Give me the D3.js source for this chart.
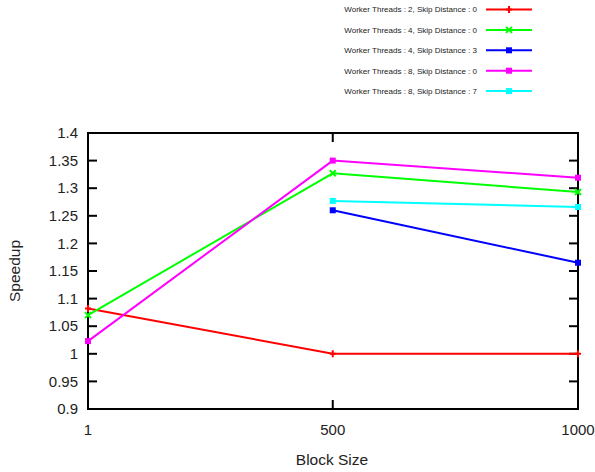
<!DOCTYPE html>
<html><head><meta charset="utf-8">
<script src="https://cdn.jsdelivr.net/npm/d3@7"></script>
<style>body{margin:0;background:#fff}svg{display:block}text{font-family:"Liberation Sans",Arial,sans-serif;fill:#222}</style>
</head><body><svg id="c" width="595" height="472"></svg>
<script>
const blockSizes = [1, 500, 1000];
const seriesNames = [
  "Worker Threads : 2, Skip Distance : 0",
  "Worker Threads : 4, Skip Distance : 0",
  "Worker Threads : 4, Skip Distance : 3",
  "Worker Threads : 8, Skip Distance : 0",
  "Worker Threads : 8, Skip Distance : 7"
];
const wt2sd0 = [1.082, 1.0, 1.0];
const wt4sd0 = [1.07, 1.327, 1.293];
const wt4sd3 = [null, 1.26, 1.165];
const wt8sd0 = [1.023, 1.35, 1.319];
const wt8sd7 = [null, 1.277, 1.266];
const seriesColors = ["#ff0000", "#00ff00", "#0000ff", "#ff00ff", "#00ffff"];
const seriesMarkers = ["plus", "cross", "square", "square", "square"];
const yTicks = [0.9, 0.95, 1, 1.05, 1.1, 1.15, 1.2, 1.25, 1.3, 1.35, 1.4];
const xTicks = [1, 500, 1000];

const allSeries = [wt2sd0, wt4sd0, wt4sd3, wt8sd0, wt8sd7];
const svg = d3.select("#c");
const L = 88, R = 578, T = 133, B = 409;
const x = d3.scaleLinear().domain([1, 1000]).range([L, R]);
const y = d3.scaleLinear().domain([0.9, 1.4]).range([B, T]);

const fs = 15;
const tl = 9;
const g = svg.append("g");
yTicks.forEach(v => {
  g.append("line").attr("x1", L).attr("x2", L + tl).attr("y1", y(v)).attr("y2", y(v)).attr("stroke", "#000").attr("stroke-width", 2);
  g.append("line").attr("x1", R).attr("x2", R - tl).attr("y1", y(v)).attr("y2", y(v)).attr("stroke", "#000").attr("stroke-width", 2);
  g.append("text").attr("x", L - 10).attr("y", y(v)).attr("dy", "0.35em").attr("text-anchor", "end").attr("font-size", fs).text(v);
});
xTicks.forEach(v => {
  g.append("line").attr("x1", x(v)).attr("x2", x(v)).attr("y1", B).attr("y2", B - tl).attr("stroke", "#000").attr("stroke-width", 2);
  g.append("line").attr("x1", x(v)).attr("x2", x(v)).attr("y1", T).attr("y2", T + tl).attr("stroke", "#000").attr("stroke-width", 2);
  g.append("text").attr("x", x(v)).attr("y", 430).attr("dy", "0.35em").attr("text-anchor", "middle").attr("font-size", fs).text(v);
});
g.append("rect").attr("x", L).attr("y", T).attr("width", R - L).attr("height", B - T).attr("fill", "none").attr("stroke", "#000").attr("stroke-width", 2);

svg.append("text").attr("x", 332).attr("y", 460).attr("dy", "0.35em").attr("text-anchor", "middle").attr("font-size", 15.5).text("Block Size");
svg.append("text").attr("transform", "translate(15,271) rotate(-90)").attr("dy", "0.35em").attr("text-anchor", "middle").attr("font-size", 15.5).text("Speedup");

function marker(sel, type, cx, cy, color) {
  if (type === "square") {
    sel.append("rect").attr("x", cx - 3).attr("y", cy - 3).attr("width", 6).attr("height", 6).attr("fill", color);
  } else if (type === "plus") {
    sel.append("path").attr("d", `M${cx-3},${cy}H${cx+3}M${cx},${cy-3.5}V${cy+3.5}`).attr("stroke", color).attr("stroke-width", 2);
  } else {
    sel.append("path").attr("d", `M${cx-3},${cy-3}L${cx+3},${cy+3}M${cx-3},${cy+3}L${cx+3},${cy-3}`).attr("stroke", color).attr("stroke-width", 2);
  }
}

const line = d3.line().defined(d => d.v != null).x(d => x(d.x)).y(d => y(d.v));
allSeries.forEach((s, i) => {
  const pts = s.map((v, j) => ({x: blockSizes[j], v}));
  svg.append("path").datum(pts).attr("d", line).attr("fill", "none").attr("stroke", seriesColors[i]).attr("stroke-width", 2);
  const mg = svg.append("g");
  pts.filter(p => p.v != null).forEach(p => marker(mg, seriesMarkers[i], x(p.x), y(p.v), seriesColors[i]));
});

seriesNames.forEach((n, i) => {
  const ly = 9.5 + i * 20.4;
  svg.append("text").attr("x", 477).attr("y", ly).attr("dy", "0.35em").attr("text-anchor", "end").attr("font-size", 8).text(n);
  svg.append("line").attr("x1", 486).attr("x2", 532).attr("y1", ly).attr("y2", ly).attr("stroke", seriesColors[i]).attr("stroke-width", 2);
  marker(svg, seriesMarkers[i], 509, ly, seriesColors[i]);
});
</script></body></html>
